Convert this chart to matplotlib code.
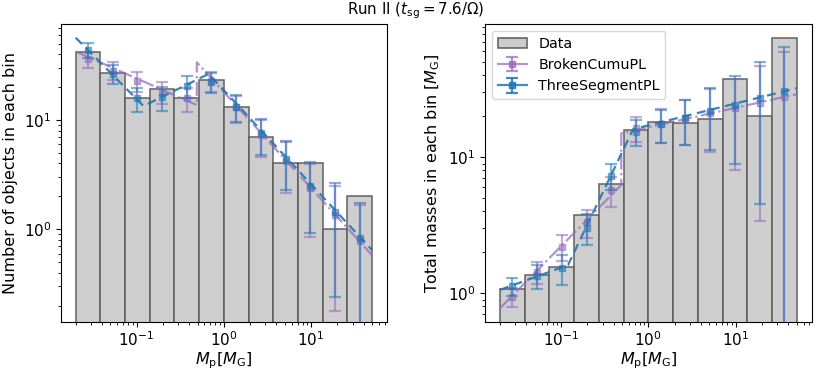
import numpy as np
import matplotlib
matplotlib.use("Agg")
import matplotlib.pyplot as plt
from matplotlib.patches import Patch

# ---------------- data ----------------
bin_lo, bin_hi, n_bins = 0.02, 50.0, 12

# histogram of the data
data_counts = [42, 27, 16, 19, 16, 23, 13, 7, 4, 4, 1, 2]
data_masses = [1.07, 1.36, 1.56, 3.75, 6.33, 15.8, 18.3, 18.0, 19.0, 37.9, 20.1, 75.4]

# model points (per bin) - counts
bcpl_counts = [35.9, 28.3, 22.7, 18.2, 15.8, 22.6, 13.0, 7.3, 4.2, 2.4, 1.34, 0.78]
bcpl_counts_err = [5.99, 5.32, 4.76, 4.27, 3.97, 4.75, 3.61, 2.70, 2.05, 1.55, 1.16, 0.88]
tspl_counts = [43.7, 26.4, 15.8, 16.1, 20.5, 22.3, 13.2, 7.55, 4.37, 2.51, 1.44, 0.83]
tspl_counts_err = [6.61, 5.14, 3.97, 4.01, 4.53, 4.72, 3.63, 2.75, 2.09, 1.58, 1.20, 0.91]

# model points (per bin) - masses
bcpl_mass = [0.945, 1.44, 2.20, 3.33, 5.75, 16.3, 17.6, 19.4, 21.3, 22.9, 25.2, 27.6]
bcpl_mass_err = [0.158, 0.271, 0.462, 0.780, 1.45, 3.43, 4.88, 7.19, 10.4, 14.8, 21.8, 31.4]
tspl_mass = [1.13, 1.34, 1.54, 3.04, 7.33, 15.4, 17.6, 19.4, 21.8, 24.4, 27.3, 30.7]
tspl_mass_err = [0.171, 0.261, 0.388, 0.758, 1.62, 3.26, 4.85, 7.05, 10.4, 15.4, 22.75, 33.7]

# fitted model curves (break points)
bcpl_line_x = [0.02, 0.49, 0.49, 50.0]
bcpl_line_counts = [42.2, 13.7, 33.7, 0.58]
bcpl_line_mass = [0.776, 6.26, 15.0, 29.1]
tspl_line_x = [0.02, 0.12, 0.67, 50.0]
tspl_line_counts = [56.6, 13.4, 26.4, 0.647]
tspl_line_mass = [1.06, 1.61, 16.1, 32.2]

title = r"Run II ($t_{\rm sg}=7.6/\Omega$)"
xlabel = r"$M_{\rm p}[M_{\rm G}]$"
ylabels = ["Number of objects in each bin", r"Total masses in each bin [$M_{\rm G}$]"]
labels = ["Data", "BrokenCumuPL", "ThreeSegmentPL"]

# ---------------- plotting ----------------
edges = np.logspace(np.log10(bin_lo), np.log10(bin_hi), n_bins + 1)
centers = np.sqrt(edges[:-1] * edges[1:])

purple = "#9467bd"
blue = "#1f77b4"

fig = plt.figure(figsize=(8.31, 3.73), dpi=100)
ax1 = fig.add_axes([0.0734, 0.1359, 0.3923, 0.799])
ax2 = fig.add_axes([0.5840, 0.1359, 0.3928, 0.799])

panels = [
    (ax1, data_counts, bcpl_counts, bcpl_counts_err, tspl_counts, tspl_counts_err,
     bcpl_line_counts, tspl_line_counts, (0.141, 75.0)),
    (ax2, data_masses, bcpl_mass, bcpl_mass_err, tspl_mass, tspl_mass_err,
     bcpl_line_mass, tspl_line_mass, (0.612, 95.0)),
]

for i, (ax, hist, bp, bpe, tp, tpe, bl, tl, ylim) in enumerate(panels):
    ax.set_xscale("log")
    ax.set_yscale("log")
    ax.hist(centers, bins=edges, weights=hist, facecolor="#cccccc",
            edgecolor="#5a5a5a", linewidth=1.1, alpha=0.95, zorder=1)
    ax.plot(bcpl_line_x, bl, ls="-.", color=purple, lw=1.6, alpha=0.7, zorder=2)
    ax.errorbar(centers, bp, yerr=np.array(bpe), fmt="s", color=purple, ms=5, capsize=4,
                elinewidth=1.6, capthick=1.6, alpha=0.55, zorder=3)
    ax.plot(tspl_line_x, tl, ls="--", color=blue, lw=1.6, alpha=0.9, zorder=4,
            dashes=(4, 2.5))
    ax.errorbar(centers, tp, yerr=np.array(tpe), fmt="s", color=blue, ms=5, capsize=4,
                elinewidth=1.6, capthick=1.6, alpha=0.55, zorder=5)
    ax.set_xlim(10 ** -1.867, 10 ** 1.871)
    ax.set_ylim(*ylim)
    ax.set_xlabel(xlabel, fontsize=11.5, labelpad=1)
    ax.set_ylabel(ylabels[i], fontsize=11.5)
    ax.tick_params(axis="both", which="major", labelsize=11)
    ax.tick_params(axis="x", which="both", pad=2.5)

# legend proxies
h_data = Patch(facecolor="#cccccc", edgecolor="#5a5a5a", linewidth=1.1)
h_b = ax2.errorbar([np.nan], [np.nan], yerr=[np.nan], fmt="-s", color=purple, ms=5,
                   capsize=4, elinewidth=1.6, capthick=1.6, alpha=0.7, lw=1.6)
h_t = ax2.errorbar([np.nan], [np.nan], yerr=[np.nan], fmt="-s", color=blue, ms=5,
                   capsize=4, elinewidth=1.6, capthick=1.6, alpha=0.85, lw=1.6)
ax2.legend([h_data, h_b, h_t], labels, loc="upper left", fontsize=10.3)

fig.suptitle(title, fontsize=10.8, x=0.5, y=0.998)
fig.savefig("out.png", dpi=100)
